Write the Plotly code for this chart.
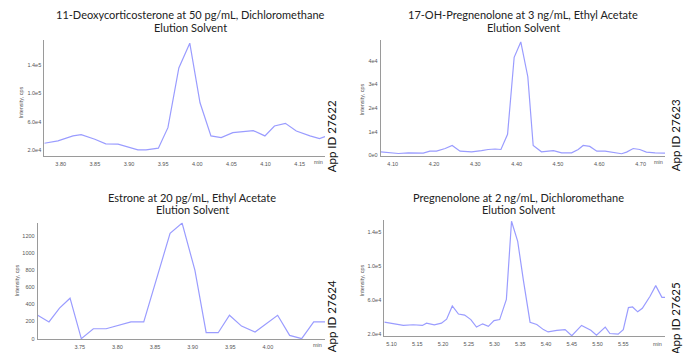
import plotly.graph_objects as go

W, H = 689, 353

# --- chromatogram data (retention time in min, intensity in cps) ---
doc_time = [3.776, 3.796, 3.818, 3.830, 3.850, 3.866, 3.884, 3.899, 3.913, 3.925,
            3.943, 3.957, 3.973, 3.989, 4.004, 4.020, 4.035, 4.052, 4.067, 4.082,
            4.099, 4.113, 4.129, 4.145, 4.165, 4.179, 4.187]
doc_int = [29400, 32700, 39800, 41600, 35000, 28500, 28000, 23300, 20000, 20000,
           22400, 51500, 136200, 171500, 86800, 39800, 37400, 44500, 45400, 47300,
           39800, 53900, 57600, 46800, 39800, 36000, 38800]

ohp_time = [4.071, 4.090, 4.114, 4.138, 4.158, 4.174, 4.190, 4.206, 4.227, 4.244,
            4.263, 4.291, 4.315, 4.331, 4.348, 4.362, 4.378, 4.394, 4.410, 4.427,
            4.440, 4.460, 4.477, 4.489, 4.509, 4.533, 4.549, 4.561, 4.577, 4.594,
            4.614, 4.634, 4.654, 4.666, 4.682, 4.698, 4.714, 4.735, 4.759]
ohp_int = [1500, 1100, 800, 1100, 1200, 1000, 1800, 1800, 2900, 4200,
           1800, 1500, 2000, 2500, 2700, 2500, 8900, 41400, 47900, 33200,
           4200, 1500, 1800, 2000, 1100, 1100, 2500, 4200, 3800, 1800,
           1800, 1400, 700, 1400, 2900, 2500, 1400, 1100, 1000]

e1_time = [3.694, 3.709, 3.723, 3.737, 3.752, 3.768, 3.785, 3.801, 3.818, 3.835,
           3.852, 3.870, 3.886, 3.903, 3.918, 3.934, 3.949, 3.965, 3.983, 3.996,
           4.013, 4.029, 4.045, 4.061, 4.076]
e1_int = [272, 195, 356, 471, 0, 115, 115, 153, 195, 195,
          682, 1226, 1345, 797, 69, 69, 272, 146, 77, 157,
          272, 38, 0, 195, 195]

preg_time = [5.086, 5.106, 5.123, 5.142, 5.160, 5.168, 5.183, 5.197, 5.207, 5.218,
             5.230, 5.242, 5.254, 5.265, 5.277, 5.288, 5.299, 5.310, 5.323, 5.333,
             5.345, 5.356, 5.369, 5.382, 5.395, 5.404, 5.421, 5.437, 5.450, 5.469,
             5.487, 5.498, 5.515, 5.524, 5.540, 5.550, 5.560, 5.568, 5.578, 5.587,
             5.602, 5.613, 5.625, 5.634]
preg_int = [34400, 32500, 30600, 31400, 30600, 33300, 31400, 33300, 37900, 53500,
            44000, 42800, 37500, 28700, 32500, 29500, 36300, 37500, 61100, 153100,
            129500, 83900, 34400, 31800, 25700, 23000, 24900, 25700, 18500, 30600,
            24900, 19200, 28700, 21100, 20400, 25700, 51600, 52300, 46600, 50800,
            64900, 77400, 63700, 63700]

# --- panel texts and ticks ---
titles = [
    "11-Deoxycorticosterone at 50 pg/mL, Dichloromethane",
    "17-OH-Pregnenolone at 3 ng/mL, Ethyl Acetate",
    "Estrone at 20 pg/mL, Ethyl Acetate",
    "Pregnenolone at 2 ng/mL, Dichloromethane",
]
subtitle = "Elution Solvent"
app_ids = ["App ID 27622", "App ID 27623", "App ID 27624", "App ID 27625"]

x_ticks = [
    [3.80, 3.85, 3.90, 3.95, 4.00, 4.05, 4.10, 4.15],
    [4.10, 4.20, 4.30, 4.40, 4.50, 4.60, 4.70],
    [3.75, 3.80, 3.85, 3.90, 3.95, 4.00],
    [5.10, 5.15, 5.20, 5.25, 5.30, 5.35, 5.40, 5.45, 5.50, 5.55],
]
y_ticks = [
    [20000, 60000, 100000, 140000],
    [0, 10000, 20000, 30000, 40000],
    [0, 200, 400, 600, 800, 1000, 1200],
    [20000, 60000, 100000, 140000],
]
y_ticktext = [
    ["2.0e4", "6.0e4", "1.0e5", "1.4e5"],
    ["0e0", "1e4", "2e4", "3e4", "4e4"],
    ["0", "200", "400", "600", "800", "1000", "1200"],
    ["2.0e4", "6.0e4", "1.0e5", "1.4e5"],
]

series = [(doc_time, doc_int), (ohp_time, ohp_int), (e1_time, e1_int), (preg_time, preg_int)]

# plot-area boxes in pixels: (left, right, top, bottom)
boxes = [
    (44.3, 325.0, 40.0, 157.0),
    (380.7, 665.0, 40.7, 157.0),
    (37.7, 325.0, 224.0, 341.0),
    (384.3, 665.0, 221.7, 338.0),
]
x_ranges = [[3.776, 4.187], [4.071, 4.759], [3.694, 4.076], [5.086, 5.631]]
y_ranges = [[11100, 176300], [-300, 48500], [-5, 1350], [18100, 154000]]

# title centres (x, first line y, second line y), side label positions
title_pos = [(190, 15, 27.5), (523, 15, 28), (192, 199, 211), (518, 199, 211)]
app_pos = [(331, 137), (675, 136), (331, 318), (675, 320)]
ylab_pos = [(21, 103), (362, 100), (17, 282), (362, 282)]
min_pos = [(318, 163), (658, 163), (317, 347), (657, 346)]

LINE = "#9a9cff"
AXIS = "#9a9a9a"
TICKFONT = dict(family="Liberation Sans, Arial, sans-serif", size=5.5, color="#555555")
TITLEFONT = dict(family="Lato, Open Sans, sans-serif", size=11, color="#222222")
APPFONT = dict(family="Lato, Open Sans, sans-serif", size=11.5, color="#111111")


def px(x):
    return x / W


def py(y):
    return 1 - y / H


fig = go.Figure()
annotations = []
layout_axes = {}

for i, ((t, v), (l, r, top, bot)) in enumerate(zip(series, boxes)):
    n = i + 1
    xa = "x" if n == 1 else f"x{n}"
    ya = "y" if n == 1 else f"y{n}"
    fig.add_trace(go.Scatter(
        x=t, y=v, mode="lines", xaxis=xa, yaxis=ya,
        line=dict(color=LINE, width=1.2), showlegend=False, hoverinfo="x+y",
    ))
    layout_axes[f"xaxis{'' if n == 1 else n}"] = dict(
        domain=[px(l), px(r)], range=x_ranges[i], anchor=ya,
        tickvals=x_ticks[i], ticktext=[f"{x:.2f}" for x in x_ticks[i]],
        showgrid=False, zeroline=False, showline=True, linecolor=AXIS, linewidth=1,
        ticks="", tickfont=TICKFONT, ticklabelstandoff=2,
    )
    layout_axes[f"yaxis{'' if n == 1 else n}"] = dict(
        domain=[py(bot), py(top)], range=y_ranges[i], anchor=xa,
        tickvals=y_ticks[i], ticktext=y_ticktext[i],
        showgrid=False, zeroline=False, showline=True, linecolor=AXIS, linewidth=1,
        ticks="", tickfont=TICKFONT, ticklabelstandoff=1,
    )

    cx, y1, y2 = title_pos[i]
    annotations.append(dict(text=titles[i], x=px(cx), y=py(y1), xref="paper", yref="paper",
                            xanchor="center", yanchor="middle", showarrow=False, font=TITLEFONT))
    annotations.append(dict(text=subtitle, x=px(cx), y=py(y2), xref="paper", yref="paper",
                            xanchor="center", yanchor="middle", showarrow=False, font=TITLEFONT))
    ax_, ay_ = app_pos[i]
    annotations.append(dict(text=app_ids[i], x=px(ax_), y=py(ay_), xref="paper", yref="paper",
                            xanchor="center", yanchor="middle", showarrow=False, textangle=-90,
                            font=APPFONT))
    lx, ly = ylab_pos[i]
    annotations.append(dict(text="Intensity, cps", x=px(lx), y=py(ly), xref="paper", yref="paper",
                            xanchor="center", yanchor="middle", showarrow=False, textangle=-90,
                            font=TICKFONT))
    mx, my = min_pos[i]
    annotations.append(dict(text="min", x=px(mx), y=py(my), xref="paper", yref="paper",
                            xanchor="center", yanchor="middle", showarrow=False, font=TICKFONT))

fig.update_layout(
    width=W, height=H,
    margin=dict(l=0, r=0, t=0, b=0),
    paper_bgcolor="white", plot_bgcolor="white",
    annotations=annotations,
    **layout_axes,
)

fig.write_html("out.html")
